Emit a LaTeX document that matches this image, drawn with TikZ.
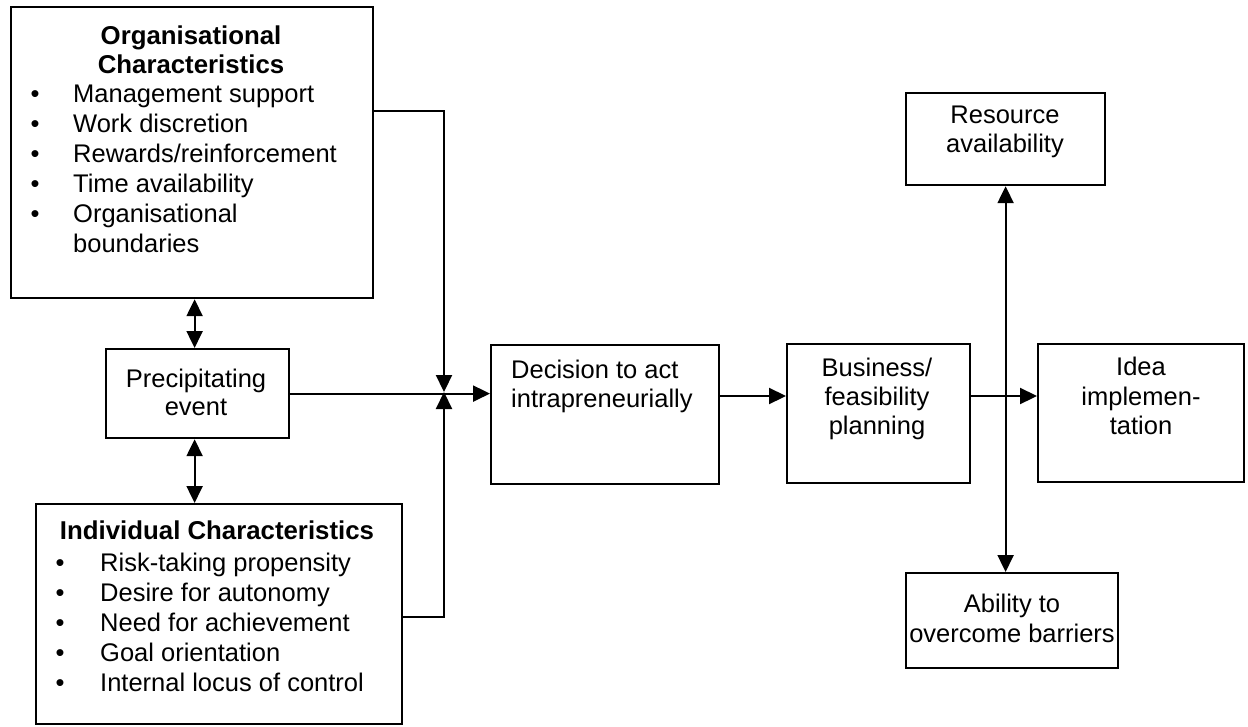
\documentclass[tikz,border=0pt]{standalone}
\usepackage{fontspec}
\setmainfont{Liberation Sans}
\usetikzlibrary{arrows.meta,calc}
\tikzset{
  box/.style={draw, line width=2.2pt, rectangle, inner sep=0pt, anchor=north west},
  lbl/.style={inner sep=0pt, font=\fontsize{25.5}{30}\selectfont},
  hd/.style={lbl, font=\fontsize{25.8}{30}\selectfont\bfseries},
  conn/.style={line width=2.2pt},
  tip/.style={Triangle[length=17pt,width=16pt]},
  arr/.style={conn, -{Triangle[length=17pt,width=16pt]}},
  darr/.style={conn, {Triangle[length=17pt,width=16pt]}-{Triangle[length=17pt,width=16pt]}}
}
\begin{document}
\begin{tikzpicture}[x=1pt,y=-1pt]
\useasboundingbox (0,0) rectangle (1248,726);

% boxes
\node[box, minimum width=362pt, minimum height=291pt] (org) at (10,6) {};
\node[box, minimum width=183pt, minimum height=89pt] (pre) at (105,348) {};
\node[box, minimum width=366pt, minimum height=220pt] (ind) at (35,503) {};
\node[box, minimum width=228pt, minimum height=139pt] (dec) at (490,344) {};
\node[box, minimum width=183pt, minimum height=139pt] (bus) at (786,343) {};
\node[box, minimum width=206pt, minimum height=138pt] (idea) at (1037,343) {};
\node[box, minimum width=199pt, minimum height=92pt] (res) at (905,92) {};
\node[box, minimum width=212pt, minimum height=95pt] (abl) at (905,572) {};

% organisational characteristics
\node[hd, anchor=base] (oh1) at (191,44) {Organisational};
\node[hd, anchor=base] (oh2) at (191,73) {Characteristics};
\foreach \t [count=\i] in {Management support, Work discretion, Rewards/reinforcement, Time availability, Organisational} {
  \node[lbl, anchor=base] (ob\i) at (35,{72+30*\i}) {•};
  \node[lbl, anchor=base west] (ot\i) at (73,{72+30*\i}) {\t};
}
\node[lbl, anchor=base west] (ot6) at (73,252) {boundaries};

% precipitating event
\node[lbl, anchor=base] (p1) at (196,387) {Precipitating};
\node[lbl, anchor=base] (p2) at (196,415) {event};

% individual characteristics
\node[hd, anchor=base] (ih) at (217,539) {Individual Characteristics};
\foreach \t [count=\i] in {Risk-taking propensity, Desire for autonomy, Need for achievement, Goal orientation, Internal locus of control} {
  \node[lbl, anchor=base] (ib\i) at (60,{541+30*\i}) {•};
  \node[lbl, anchor=base west] (it\i) at (100,{541+30*\i}) {\t};
}

% decision
\node[lbl, anchor=base west] (d1) at (511,378) {Decision to act};
\node[lbl, anchor=base west] (d2) at (511,407) {intrapreneurially};

% business planning
\node[lbl, anchor=base] (b1) at (877,376) {Business/};
\node[lbl, anchor=base] (b2) at (877,405) {feasibility};
\node[lbl, anchor=base] (b3) at (877,434) {planning};

% idea implementation
\node[lbl, anchor=base] (i1) at (1141,375) {Idea};
\node[lbl, anchor=base] (i2) at (1141,405) {implemen-};
\node[lbl, anchor=base] (i3) at (1141,434) {tation};

% resource availability
\node[lbl, anchor=base] (r1) at (1005,123) {Resource};
\node[lbl, anchor=base] (r2) at (1005,152) {availability};

% ability to overcome barriers
\node[lbl, anchor=base] (a1) at (1012,612) {Ability to};
\node[lbl, anchor=base] (a2) at (1012,642) {overcome barriers};

% connectors
\coordinate (jn) at (444,392);
\coordinate (row) at (0,396);
\draw[arr] ([yshift=-105pt]org.north east) -| (jn);
\draw[arr] ([yshift=-114pt]ind.north east) -| (jn);
\draw[arr] (pre.east) -- (pre.east -| dec.west);
\draw[arr] (dec.east |- row) -- (bus.west |- row);
\draw[arr] (bus.east |- row) -- (idea.west |- row);
\draw[darr] (res.south) -- (res.south |- abl.north);
\draw[darr] ([xshift=-3pt]pre.north |- org.south) -- ([xshift=-3pt]pre.north);
\draw[darr] ([xshift=-3pt]pre.south) -- ([xshift=-3pt]pre.south |- ind.north);
\end{tikzpicture}
\end{document}
